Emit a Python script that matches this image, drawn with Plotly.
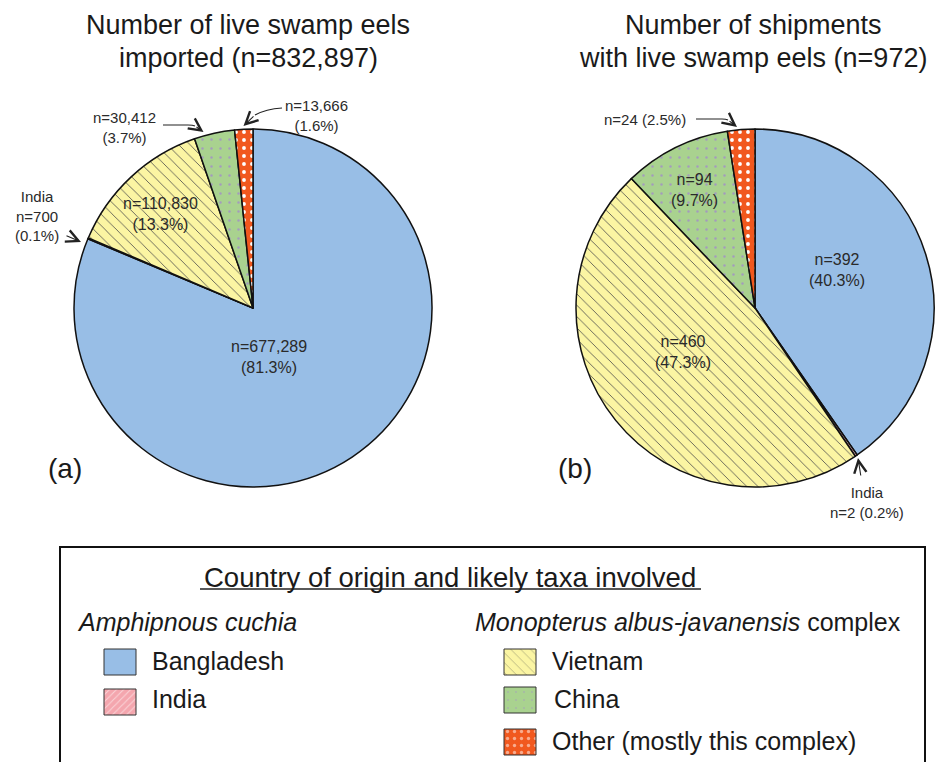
import plotly.graph_objects as go

# ---------------- data ----------------
categories = ["Bangladesh", "India", "Vietnam", "China", "Other"]
eels_imported = [677289, 700, 110830, 30412, 13666]
shipments = [392, 2, 460, 94, 24]

colors = ["#98BEE6", "#F4A6AE", "#FBF5A3", "#A9D28F", "#F1581E"]
pattern_shapes = ["", "/", "\\", ".", "."]
pattern_fg = ["#98BEE6", "#FFFFFF", "#4A4A4A", "#A39CBC", "#FFFFFF"]
pattern_size = [8, 6, 8, 9, 8]
pattern_solid = [0.1, 0.2, 0.1, 0.06, 0.18]

W, H = 946, 762
FONT = "Liberation Sans, Arial, sans-serif"


def pie_domain(cx, cy, r):
    return dict(x=[(cx - r) / W, (cx + r) / W], y=[(H - cy - r) / H, (H - cy + r) / H])


def label(v, tot):
    return f"n={v:,}<br>({100 * v / tot:.1f}%)"


def label1(v, tot):
    return f"n={v:,} ({100 * v / tot:.1f}%)"


tot_a = sum(eels_imported)
tot_b = sum(shipments)

fig = go.Figure()

for vals, dom in [(eels_imported, pie_domain(253, 308, 179)), (shipments, pie_domain(755, 308, 179))]:
    fig.add_trace(go.Pie(
        values=vals, labels=categories, sort=False, direction="clockwise", rotation=0,
        domain=dom, textinfo="none", showlegend=False, hoverinfo="label+value+percent",
        marker=dict(colors=colors, line=dict(color="#111111", width=1.5),
                    pattern=dict(shape=pattern_shapes, fgcolor=pattern_fg, bgcolor=colors,
                                 size=pattern_size, solidity=pattern_solid)),
    ))

# legend swatches (hidden pixel-space axes)
swatches = [
    (104, 649, 0), (104, 689, 1),
    (504, 649, 2), (504, 687, 3), (504, 729, 4),
]
for x0, y0, i in swatches:
    x1, y1 = x0 + 32, y0 + 26
    fig.add_trace(go.Scatter(
        x=[x0, x1, x1, x0, x0], y=[y0, y0, y1, y1, y0], mode="lines", fill="toself",
        fillcolor=colors[i], line=dict(color="#333333", width=1), hoverinfo="skip", showlegend=False,
        fillpattern=dict(shape=pattern_shapes[i], fgcolor=pattern_fg[i], bgcolor=colors[i],
                         size=pattern_size[i] - 1, solidity=pattern_solid[i]),
    ))

ann = []
def txt(x, y, t, size=16, color="#2a2a2a", **kw):
    ann.append(dict(x=x, y=y, xref="x", yref="y", text=t, showarrow=False,
                    font=dict(family=FONT, size=size, color=color), **kw))

def arrow(x, y, ax, ay):
    ann.append(dict(x=x, y=y, ax=ax, ay=ay, xref="x", yref="y", axref="x", ayref="y",
                    text="", showarrow=True, arrowhead=5, arrowsize=2.2, arrowwidth=1.1,
                    arrowcolor="#222222"))

# titles
txt(248, 25, "Number of live swamp eels", 27, "#1a1a1a")
txt(248, 58, f"imported (n={tot_a:,})", 27, "#1a1a1a")
txt(753, 25, "Number of shipments", 27, "#1a1a1a")
txt(753, 58, f"with live swamp eels (n={tot_b:,})", 27, "#1a1a1a")

# pie (a) labels
txt(269, 357, label(eels_imported[0], tot_a))
txt(160, 214, label(eels_imported[2], tot_a))
txt(124, 127, label(eels_imported[3], tot_a), 15)
txt(316, 115, label(eels_imported[4], tot_a), 15)
txt(37, 216, "India<br>" + label(eels_imported[1], tot_a), 15)
txt(65, 468, "(a)", 28, "#1a1a1a")

# pie (b) labels
txt(837, 270, label(shipments[0], tot_b))
txt(694, 190, label(shipments[3], tot_b))
txt(683, 352, label(shipments[2], tot_b))
txt(645, 119, label1(shipments[4], tot_b), 15)
txt(867, 502, "India<br>" + label1(shipments[1], tot_b), 15)
txt(575, 468, "(b)", 28, "#1a1a1a")

# arrows
shapes = []
def path(d):
    shapes.append(dict(type="path", path=d, xref="x", yref="y", line=dict(color="#222222", width=1.1)))

path("M 163,125 L 188,125 Q 193,125 195,126")
arrow(203.5, 132, 195, 126)
path("M 282,108 Q 266,109 255,115")
arrow(243.5, 126, 255, 115)
arrow(81, 242, 65, 235)
path("M 696,119 L 722,119 Q 726,119 728,120")
arrow(737, 127, 728, 120)
arrow(858, 458, 861, 477)

# legend box
shapes.append(dict(type="rect", xref="x", yref="y", x0=60, y0=547, x1=925, y1=790,
                   line=dict(color="#111111", width=2)))
shapes.append(dict(type="line", xref="x", yref="y", x0=200, y0=589, x1=701, y1=589,
                   line=dict(color="#222222", width=1.5)))
txt(450, 577, "Country of origin and likely taxa involved", 27.5, "#1a1a1a")
txt(75, 622, "<i>Amphipnous cuchia</i>", 25, "#1a1a1a", xanchor="left")
txt(150, 661, categories[0], 25, "#1a1a1a", xanchor="left")
txt(150, 699, categories[1], 25, "#1a1a1a", xanchor="left")
txt(473, 622, "<i>Monopterus albus-javanensis</i> complex", 25, "#1a1a1a", xanchor="left")
txt(550, 661, categories[2], 25, "#1a1a1a", xanchor="left")
txt(552, 699, categories[3], 25, "#1a1a1a", xanchor="left")
txt(550, 741, "Other (mostly this complex)", 25, "#1a1a1a", xanchor="left")

fig.update_layout(
    width=W, height=H, margin=dict(l=0, r=0, t=0, b=0),
    paper_bgcolor="white", plot_bgcolor="white",
    xaxis=dict(range=[0, W], domain=[0, 1], visible=False, fixedrange=True),
    yaxis=dict(range=[H, 0], domain=[0, 1], visible=False, fixedrange=True),
    annotations=ann, shapes=shapes, font=dict(family=FONT),
)

fig.write_html("out.html", config={"displayModeBar": False},
               post_script="document.body.style.margin='0';document.body.style.overflow='hidden';")
